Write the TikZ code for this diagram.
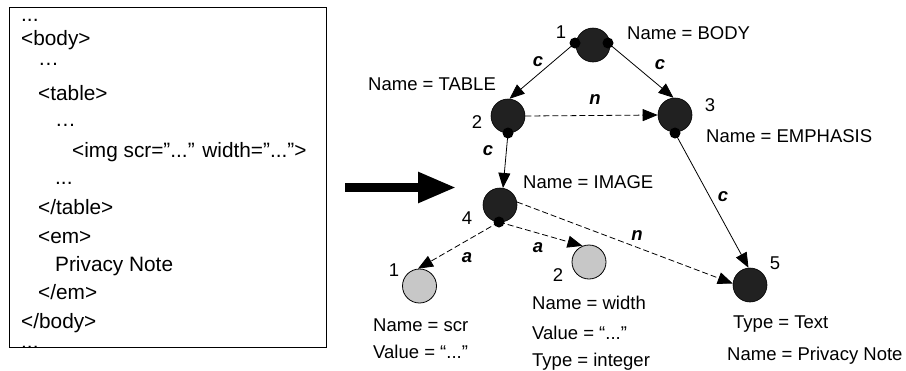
\documentclass[tikz,border=0pt]{standalone}
\usepackage{fontspec}
\setmainfont{Liberation Sans}
\usetikzlibrary{arrows.meta}
\begin{document}
\begin{tikzpicture}[x=1pt,y=-1pt,
  bignode/.style={circle, draw=black, fill=black!87, minimum size=34pt, inner sep=0pt, line width=0.6pt},
  attrnode/.style={circle, draw=black, fill=black!22, minimum size=34pt, inner sep=0pt, line width=0.8pt},
  smalldot/.style={circle, fill=black, minimum size=11pt, inner sep=0pt},
  lbl/.style={font=\fontsize{18.5}{22}\selectfont, inner sep=0pt, anchor=base west},
  num/.style={font=\fontsize{18.5}{22}\selectfont, inner sep=0pt},
  elbl/.style={font=\fontsize{18.5}{22}\selectfont\bfseries\itshape, inner sep=0pt},
  code/.style={font=\fontsize{20.8}{24}\selectfont, inner sep=0pt, anchor=base west},
  tree/.style={line width=0.8pt, -{Triangle[length=15pt,width=12pt]}},
  dashedge/.style={tree, dash pattern=on 6pt off 3pt},
  bigarrow/.style={line width=8.5pt, -{Triangle[length=38pt,width=29pt]}}
]
\useasboundingbox (0,0) rectangle (906,370);

% ---------- code box ----------
\node[code] (c0) at (21,21) {...};
\node[code] (c1) at (21,45) {<body>};
\node[code] (c2) at (38,65) {…};
\node[code] (c3) at (38,100) {<table>};
\node[code] (c4) at (55,126) {…};
\node[code] (c5) at (72,157) {<img scr=”...” width=”...”>};
\node[code] (c6) at (55,184) {...};
\node[code] (c7) at (38,214) {</table>};
\node[code] (c8) at (38,243) {<em>};
\node[code] (c9) at (55,271) {Privacy Note};
\node[code] (c10) at (38,299) {</em>};
\node[code] (c11) at (21,328) {</body>};
\node[code] (c12) at (21,348) {...};
\node[draw, line width=0.8pt, minimum width=317pt, minimum height=340pt, anchor=north west, inner sep=0pt] (codebox) at (9,7) {};

% ---------- big arrow ----------
\coordinate (arrS) at (345,187.5);
\coordinate (arrE) at (456,187.5);
\draw[bigarrow] (arrS) -- (arrE);

% ---------- tree nodes ----------
\node[bignode] (n1) at (593,45) {};
\node[bignode] (n2) at (508,116) {};
\node[bignode] (n3) at (675,115) {};
\node[bignode] (n4) at (500,205) {};
\node[bignode] (n5) at (750,285) {};
\node[attrnode] (a1) at (419.5,286) {};
\node[attrnode] (a2) at (589,262) {};

\node[smalldot] (d1l) at (575,43) {};
\node[smalldot] (d1r) at (608,43) {};
\node[smalldot] (d2) at (508,133) {};
\node[smalldot] (d3) at (675,133) {};
\node[smalldot] (d4) at (499,222) {};

% ---------- edges ----------
\draw[tree] (d1l.center) -- (n2.85);
\draw[tree] (d1r.center) -- (n3.95);
\draw[dashedge] (n2.east) -- (n3.west);
\draw[tree] (d2.center) -- (n4.80);
\draw[tree] (d3.center) -- (n5.95);
\draw[dashedge] (n4.10) -- (n5.175);
\draw[dashedge] (d4.center) -- (a1.95);
\draw[dashedge] (d4.center) -- (a2.112);

% ---------- edge labels ----------
\node[elbl] (e12) at (538,62) {c};
\node[elbl] (e13) at (660,65) {c};
\node[elbl] (e23) at (595,100) {n};
\node[elbl] (e24) at (488,151) {c};
\node[elbl] (e35) at (723,197) {c};
\node[elbl] (e45) at (637,236) {n};
\node[elbl] (e4a) at (467,258) {a};
\node[elbl] (e4b) at (538,248) {a};

% ---------- numbers ----------
\node[num] (k1) at (561,32) {1};
\node[num] (k2) at (477,122) {2};
\node[num] (k3) at (710,105) {3};
\node[num] (k4) at (467,218) {4};
\node[num] (k5) at (775,263) {5};
\node[num] (ka1) at (394,270) {1};
\node[num] (ka2) at (558,275) {2};

% ---------- labels ----------
\node[lbl] (lb1) at (627,39.5) {Name = BODY};
\node[lbl] (lb2) at (368,90.5) {Name = TABLE};
\node[lbl] (lb3) at (706,142.5) {Name = EMPHASIS};
\node[lbl] (lb4) at (523,188.5) {Name = IMAGE};
\node[lbl] (lb5a) at (733,328.5) {Type = Text};
\node[lbl] (lb5b) at (727,360.5) {Name = Privacy Note};
\node[lbl] (la1a) at (373,331.5) {Name = scr};
\node[lbl] (la1b) at (373,358.5) {Value = “...”};
\node[lbl] (la2a) at (532,309.5) {Name = width};
\node[lbl] (la2b) at (532,339.5) {Value = “...”};
\node[lbl] (la2c) at (532,366) {Type = integer};
\end{tikzpicture}
\end{document}
